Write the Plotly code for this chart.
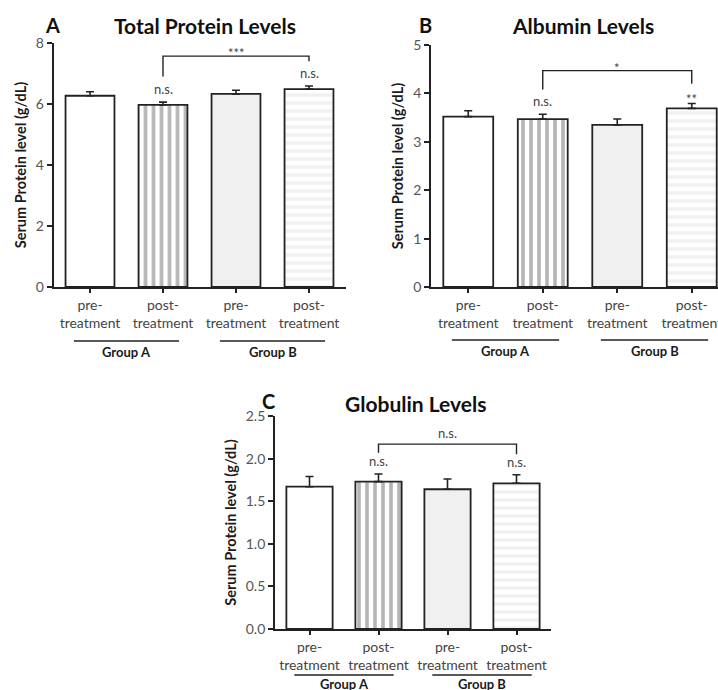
import plotly.graph_objects as go

# ---------------- data ----------------
categories = ["pre-<br>treatment", "post-<br>treatment", "pre-<br>treatment", "post-<br>treatment"]
groups = ["Group A", "Group B"]
group_members = [[0, 1], [2, 3]]

total_protein = [6.27, 5.97, 6.33, 6.49]
total_protein_err = [0.13, 0.09, 0.12, 0.10]
albumin = [3.52, 3.47, 3.35, 3.69]
albumin_err = [0.12, 0.10, 0.12, 0.10]
globulin = [1.67, 1.73, 1.64, 1.71]
globulin_err = [0.12, 0.09, 0.12, 0.10]

panel_titles = ["Total Protein Levels", "Albumin Levels", "Globulin Levels"]
panel_letters = ["A", "B", "C"]
y_title = "Serum Protein level (g/dL)"
bar_marks = [["", "n.s.", "", "n.s."], ["", "n.s.", "", "**"], ["", "n.s.", "", "n.s."]]
bracket_marks = ["***", "*", "n.s."]
bracket_top = [7.57, 4.47, 2.17]
bracket_legs = [[6.9, 7.4], [4.08, 4.2], [2.07, 2.05]]
y_max = [8, 5, 2.5]
y_dtick = [2, 1, 0.5]
y_format = ["d", "d", ".1f"]

values = [total_protein, albumin, globulin]
errors = [total_protein_err, albumin_err, globulin_err]

# ---------------- layout geometry (pixels) ----------------
W, H = 718, 690
# (x_left, x_right, y_top, y_bottom) of each plot area in px
boxes = [(53.5, 345.5, 43, 287), (431, 718, 45, 287), (275, 551, 416, 629)]
x_ranges = [[-0.5, 3.5], [-0.5, -0.5 + (718 - 431) / 74.5], [-0.5, 3.5]]
group_line_px = [341, 340, 675]
group_text_px = [352, 351, 684]
title_px = [(205, 25), (583, 25), (415, 403)]
letter_px = [(52, 25), (425, 25), (268, 401)]

FONT = "Lato"

fill_colors = ["#ffffff", "#b4b4b4", "#f0f0f0", "#f1f1f1"]
pat_shapes = ["", "|", "", "-"]
pat_fg = ["#ffffff", "#cacaca", "#f0f0f0", "#dedede"]
pat_bg = ["#ffffff", "#a6a6a6", "#f0f0f0", "#f4f4f4"]


def mark_shift(text):
    # asterisks sit high in their text box; pull them down toward the mark
    return -5 if text.startswith("*") else 3


fig = go.Figure()
shapes = []
annotations = []

for i in range(3):
    sfx = "" if i == 0 else str(i + 1)
    xl, xr, yt, yb = boxes[i]
    fig.add_trace(go.Bar(
        x=list(range(4)), y=values[i],
        xaxis="x" + sfx, yaxis="y" + sfx,
        width=0.67,
        marker=dict(
            color=fill_colors,
            line=dict(color="#222222", width=1.8),
            pattern=dict(shape=pat_shapes, fgcolor=pat_fg, bgcolor=pat_bg,
                         size=8, solidity=0.45, fillmode="replace"),
        ),
        error_y=dict(type="data", array=errors[i], arrayminus=[0, 0, 0, 0],
                     symmetric=False, color="#222222", thickness=1.6, width=4),
        showlegend=False, hoverinfo="skip",
    ))
    fig.update_layout(**{
        "xaxis" + sfx: dict(
            domain=[xl / W, xr / W], range=x_ranges[i], anchor="y" + sfx,
            tickmode="array", tickvals=list(range(4)), ticktext=categories,
            ticks="outside", ticklen=4, tickwidth=1.5, tickcolor="#222222",
            showline=True, linecolor="#222222", linewidth=1.8,
            showgrid=False, zeroline=False, fixedrange=True, automargin=False,
            ticklabeloverflow="allow",
            tickfont=dict(family=FONT, size=14, color="#444444"),
        ),
        "yaxis" + sfx: dict(
            domain=[1 - yb / H, 1 - yt / H], range=[0, y_max[i]], anchor="x" + sfx,
            dtick=y_dtick[i], tick0=0, tickformat=y_format[i],
            ticks="outside", ticklen=5, tickwidth=1.5, tickcolor="#222222",
            showline=True, linecolor="#222222", linewidth=1.8,
            showgrid=False, zeroline=False, fixedrange=True, automargin=False,
            tickfont=dict(family=FONT, size=14, color="#555555"),
            title=dict(text="<b>" + y_title + "</b>", standoff=6,
                       font=dict(family=FONT, size=14.5, color="#1a1a1a")),
        ),
    })
    xr_ = "x" + sfx
    yr_ = "y" + sfx
    # significance bracket between bar 1 and bar 3
    shapes.append(dict(
        type="path", xref=xr_, yref=yr_,
        path=f"M 1 {bracket_legs[i][0]} L 1 {bracket_top[i]} L 3 {bracket_top[i]} L 3 {bracket_legs[i][1]}",
        line=dict(color="#222222", width=1.4),
    ))
    annotations.append(dict(
        x=2, y=bracket_top[i], xref=xr_, yref=yr_, text=bracket_marks[i],
        showarrow=False, yanchor="bottom", yshift=mark_shift(bracket_marks[i]) - 2,
        font=dict(family=FONT, size=13, color="#444444"),
    ))
    # marks above bars
    for j in range(4):
        if bar_marks[i][j]:
            annotations.append(dict(
                x=j, y=values[i][j] + errors[i][j], xref=xr_, yref=yr_,
                text=bar_marks[i][j], showarrow=False, yanchor="bottom",
                yshift=mark_shift(bar_marks[i][j]),
                font=dict(family=FONT, size=13, color="#444444"),
            ))
    # group lines and labels
    for g, members in enumerate(group_members):
        c = sum(members) / len(members)
        shapes.append(dict(
            type="line", xref=xr_, yref="paper",
            x0=c - 0.72, x1=c + 0.72,
            y0=1 - group_line_px[i] / H, y1=1 - group_line_px[i] / H,
            line=dict(color="#222222", width=1.5),
        ))
        annotations.append(dict(
            x=c, y=1 - group_text_px[i] / H, xref=xr_, yref="paper",
            text="<b>" + groups[g] + "</b>", showarrow=False, yanchor="middle",
            font=dict(family=FONT, size=13, color="#1a1a1a"),
        ))
    # title and panel letter
    annotations.append(dict(
        x=title_px[i][0] / W, y=1 - title_px[i][1] / H, xref="paper", yref="paper",
        text="<b>" + panel_titles[i] + "</b>", showarrow=False,
        xanchor="center", yanchor="middle",
        font=dict(family=FONT, size=21, color="#111111"),
    ))
    annotations.append(dict(
        x=letter_px[i][0] / W, y=1 - letter_px[i][1] / H, xref="paper", yref="paper",
        text="<b>" + panel_letters[i] + "</b>", showarrow=False,
        xanchor="center", yanchor="middle",
        font=dict(family=FONT, size=20, color="#111111"),
    ))

fig.update_layout(
    width=W, height=H,
    margin=dict(l=0, r=0, t=0, b=0, pad=0, autoexpand=False),
    paper_bgcolor="white", plot_bgcolor="white",
    shapes=shapes, annotations=annotations,
    font=dict(family=FONT),
)

css_js = (
    "var s=document.createElement('style');"
    "s.innerHTML='html,body{margin:0!important;padding:0!important;overflow:hidden!important;"
    "width:718px;height:690px;}';"
    "document.head.appendChild(s);"
)
fig.write_html("out.html", config={"displayModeBar": False}, post_script=css_js)
